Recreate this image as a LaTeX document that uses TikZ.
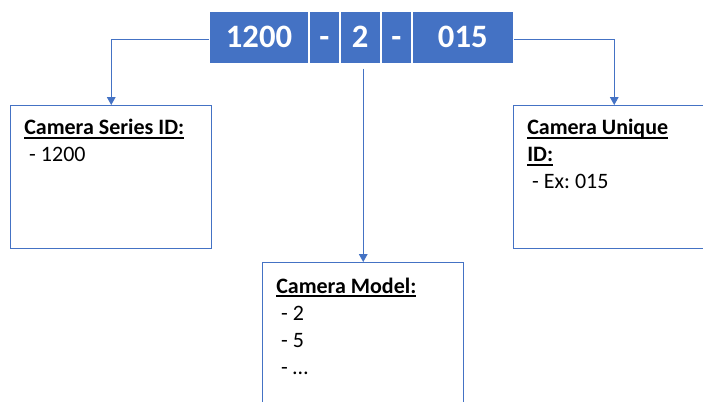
\documentclass[tikz,border=0pt]{standalone}
\usepackage{fontspec}
\setmainfont{Carlito}
\usetikzlibrary{positioning,arrows.meta}
\definecolor{idblue}{HTML}{4472C4}
% underline at a fixed depth, as the headings show it
\newcommand{\headline}[1]{\setbox0\hbox{\bfseries #1}\rlap{\rule[-3pt]{\wd0}{1.3pt}}\box0}
\frenchspacing

\tikzset{
  seg/.style={fill=idblue, draw=white, line width=1.5pt, text=white,
              font=\fontsize{24.5}{29}\selectfont\bfseries,
              text height=15.5pt, text depth=0pt,
              minimum height=39.75pt, inner sep=0pt, outer sep=0pt},
  infobox/.style={draw=idblue, line width=1.1pt, minimum width=150.75pt,
              minimum height=107.25pt, inner sep=0pt},
  boxtext/.style={align=left, inner sep=0pt, font=\fontsize{16.5}{20.25}\selectfont},
  link/.style={draw=idblue, line width=0.75pt, -{Triangle[length=6pt,width=6.5pt]}}
}

\begin{document}
\begin{tikzpicture}[x=0.75pt,y=-0.75pt]
  \clip (0,0) rectangle (703,401);

  % the id bar
  \node[seg, minimum width=75pt, anchor=north west] (n1200) at (209,11) {1200};
  \node[seg, minimum width=22.9pt, right=0pt of n1200] (dash1) {-};
  \node[seg, minimum width=31.1pt, right=0pt of dash1] (n2) {2};
  \node[seg, minimum width=22.9pt, right=0pt of n2] (dash2) {-};
  \node[seg, minimum width=76.9pt, right=0pt of dash2] (n015) {015};

  % the boxes
  \node[infobox, anchor=north west] (series) at (10,105) {};
  \node[infobox, anchor=north west] (unique) at (513,105) {};
  \node[infobox, minimum height=120pt, anchor=north west] (model) at (262,262) {};

  \node[boxtext, below right=10.5pt and 10.5pt of series.north west] (seriestext)
       {\headline{Camera Series ID:}\\~- 1200};
  \node[boxtext, below right=10.5pt and 10.5pt of unique.north west] (uniquetext)
       {\headline{Camera Unique}\\\headline{ID:}\\~- Ex: 015};
  \node[boxtext, below right=11.5pt and 10.5pt of model.north west] (modeltext)
       {\headline{Camera Model:}\\~- 2\\~- 5\\~- \dots};

  % connectors
  \draw[link] ([yshift=-1.5pt]n1200.west) -| (series.north);
  \draw[link] ([yshift=-1.5pt]n015.east) -| (unique.north);
  \draw[link, shorten <=3.5pt] (model.north |- n2.south) -- (model.north);
\end{tikzpicture}
\end{document}
